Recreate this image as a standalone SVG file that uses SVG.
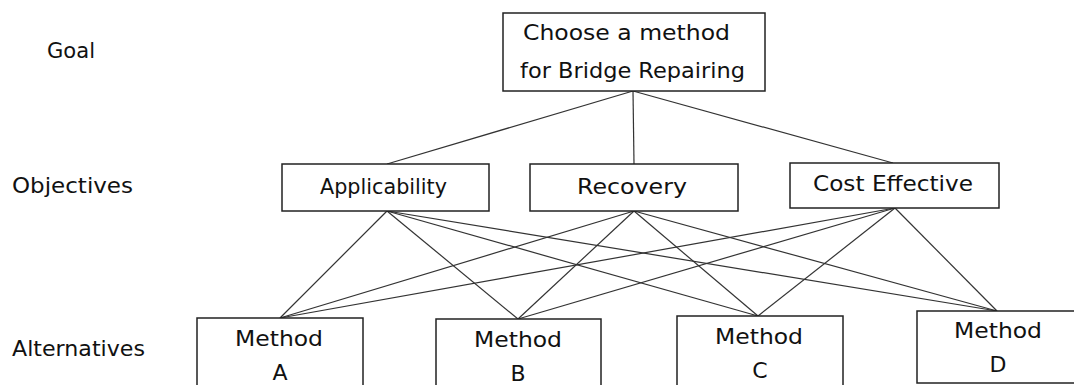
<svg xmlns="http://www.w3.org/2000/svg" width="1074" height="385" viewBox="0 0 1074 385">
<style>
text{font-family:"DejaVu Sans","Liberation Sans",sans-serif;font-size:22px;fill:#111}
.c{text-anchor:middle}
rect{fill:#fff;stroke:#222;stroke-width:1.5}
#connectors line{stroke:#333;stroke-width:1.2}
</style>
<rect x="0" y="0" width="1074" height="385" style="fill:#fff;stroke:none"/>
<g id="labels">
<text x="47" y="58" textLength="48" lengthAdjust="spacingAndGlyphs">Goal</text>
<text x="12" y="193" textLength="121" lengthAdjust="spacingAndGlyphs">Objectives</text>
<text x="12" y="356" textLength="133" lengthAdjust="spacingAndGlyphs">Alternatives</text>
</g>
<g id="connectors">
<line x1="633" y1="91" x2="387" y2="164"/>
<line x1="633" y1="91" x2="634" y2="164"/>
<line x1="633" y1="91" x2="893" y2="163"/>
<line x1="387" y1="211" x2="280" y2="318"/>
<line x1="387" y1="211" x2="518" y2="319"/>
<line x1="387" y1="211" x2="758" y2="316"/>
<line x1="387" y1="211" x2="997" y2="311"/>
<line x1="634" y1="211" x2="280" y2="318"/>
<line x1="634" y1="211" x2="518" y2="319"/>
<line x1="634" y1="211" x2="758" y2="316"/>
<line x1="634" y1="211" x2="997" y2="311"/>
<line x1="895" y1="208" x2="280" y2="318"/>
<line x1="895" y1="208" x2="518" y2="319"/>
<line x1="895" y1="208" x2="758" y2="316"/>
<line x1="895" y1="208" x2="997" y2="311"/>
</g>
<g id="goal">
<rect x="503" y="13" width="262" height="78"/>
<text class="c" x="626.5" y="40" textLength="207" lengthAdjust="spacingAndGlyphs">Choose a method</text>
<text class="c" x="632.5" y="78" textLength="225" lengthAdjust="spacingAndGlyphs">for Bridge Repairing</text>
</g>
<g id="applicability">
<rect x="282" y="164" width="207" height="47"/>
<text class="c" x="383.5" y="194" textLength="127" lengthAdjust="spacingAndGlyphs">Applicability</text>
</g>
<g id="recovery">
<rect x="530" y="164" width="208" height="47"/>
<text class="c" x="632" y="194" textLength="110" lengthAdjust="spacingAndGlyphs">Recovery</text>
</g>
<g id="cost">
<rect x="790" y="163" width="209" height="45"/>
<text class="c" x="893" y="191" textLength="160" lengthAdjust="spacingAndGlyphs">Cost Effective</text>
</g>
<g id="methodA">
<rect x="197" y="318" width="166" height="80"/>
<text class="c" x="279" y="346" textLength="88" lengthAdjust="spacingAndGlyphs">Method</text>
<text class="c" x="280" y="380">A</text>
</g>
<g id="methodB">
<rect x="436" y="319" width="165" height="80"/>
<text class="c" x="518" y="347" textLength="88" lengthAdjust="spacingAndGlyphs">Method</text>
<text class="c" x="518" y="381">B</text>
</g>
<g id="methodC">
<rect x="677" y="316" width="166" height="80"/>
<text class="c" x="759" y="344" textLength="88" lengthAdjust="spacingAndGlyphs">Method</text>
<text class="c" x="760" y="378">C</text>
</g>
<g id="methodD">
<rect x="917" y="311" width="170" height="72"/>
<text class="c" x="998" y="338" textLength="88" lengthAdjust="spacingAndGlyphs">Method</text>
<text class="c" x="998" y="372">D</text>
</g>
</svg>
